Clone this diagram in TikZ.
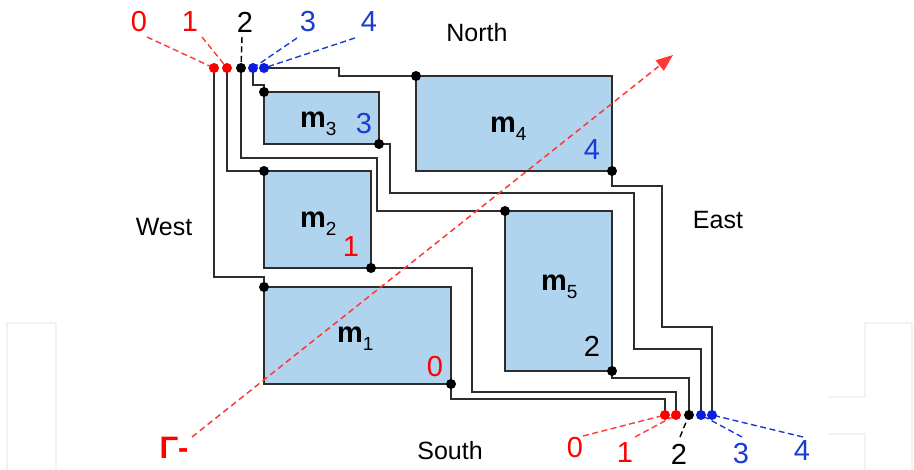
\documentclass[tikz,border=0pt]{standalone}
\usepackage{fontspec}
\setmainfont{Liberation Sans}
\usetikzlibrary{arrows.meta}
\definecolor{boxfill}{RGB}{176,212,238}
\definecolor{boxline}{RGB}{45,45,45}
\definecolor{myred}{RGB}{255,0,0}
\definecolor{dashred}{RGB}{255,55,55}
\definecolor{myblue}{RGB}{25,60,210}
\definecolor{dotblue}{RGB}{10,30,220}
\definecolor{faint}{RGB}{242,242,242}
\tikzset{
  modbox/.style={draw=boxline,fill=boxfill,line width=1.4pt,anchor=north west,inner sep=0pt,outer sep=0pt},
  wire/.style={draw=boxline,line width=1.4pt},
  dot/.style={circle,fill=black,inner sep=0pt,minimum size=10pt},
  rdot/.style={dot,fill=myred},
  bdot/.style={dot,fill=dotblue},
  lbl/.style={inner sep=0pt,font=\fontsize{29}{30}\selectfont},
  dirlbl/.style={inner sep=0pt,font=\fontsize{25}{28}\selectfont},
  mlbl/.style={inner sep=0pt,anchor=base west,font=\fontsize{29}{30}\selectfont\bfseries},
  ldash/.style={line width=1.4pt,dash pattern=on 6pt off 3.5pt},
  faintline/.style={draw=faint,line width=2.5pt}
}
\newcommand{\mlab}[1]{m\raisebox{-0.27em}{\fontsize{19}{19}\mdseries\selectfont #1}}
\begin{document}
\begin{tikzpicture}[x=1pt,y=-1pt]
\useasboundingbox (0,0) rectangle (914,470);
% faint background shapes
\draw[faintline] (7,470) -- (7,323) -- (56,323) -- (56,470);
\draw[faintline] (828,397) -- (865,397) -- (865,323) -- (912,323) -- (912,470);
\draw[faintline] (828,434) -- (865,434) -- (865,470);

% boxes
\node[modbox,minimum width=115pt,minimum height=52pt] (m3) at (264,92) {};
\node[modbox,minimum width=196pt,minimum height=95pt] (m4) at (416,76) {};
\node[modbox,minimum width=107pt,minimum height=97pt] (m2) at (264,171) {};
\node[modbox,minimum width=187pt,minimum height=97pt] (m1) at (264,287) {};
\node[modbox,minimum width=107pt,minimum height=160pt] (m5) at (505,211) {};

% module labels
\node[mlbl] (l3) at (300,128) {\mlab{3}};
\node[mlbl] (l4) at (490,133) {\mlab{4}};
\node[mlbl] (l2) at (300,228) {\mlab{2}};
\node[mlbl] (l1) at (337,343) {\mlab{1}};
\node[mlbl] (l5) at (541,291) {\mlab{5}};

% numbers inside boxes
\node[lbl,text=myblue] (n3) at (364,124) {3};
\node[lbl,text=myblue] (n4) at (592,150) {4};
\node[lbl,text=myred] (n1) at (351,247) {1};
\node[lbl,text=myred] (n0) at (435,367) {0};
\node[lbl] (n2) at (592,346) {2};

% direction labels
\node[dirlbl] (north) at (477,33) {North};
\node[dirlbl] (west) at (164,227) {West};
\node[dirlbl] (east) at (718,220) {East};
\node[dirlbl] (south) at (450,451) {South};

% terminal coordinates
\coordinate (t0) at (214,68);
\coordinate (t1) at (227,68);
\coordinate (t2) at (241,68);
\coordinate (t3) at (253,68);
\coordinate (t4) at (264,68);
\coordinate (b0) at (665,415);
\coordinate (b1) at (676,415);
\coordinate (b2) at (689,415);
\coordinate (b3) at (701,415);
\coordinate (b4) at (712,415);

% input wires
\draw[wire] (t0) -- (214,277) -- (264,277) -- (m1.north west);
\draw[wire] (t1) |- (m2.north west);
\draw[wire] (t2) -- (241,158) -- (377,158) -- (377,211) -- (m5.north west);
\draw[wire] (t3) -- (253,85) -- (264,85) -- (m3.north west);
\draw[wire] (t4) -- (339,68) -- (339,76) -- (m4.north west);

% output wires
\draw[wire] (m1.south east) -- (451,399) -- (665,399) -- (b0);
\draw[wire] (m2.south east) -- (472,268) -- (472,392) -- (676,392) -- (b1);
\draw[wire] (m5.south east) -- (612,378) -- (689,378) -- (b2);
\draw[wire] (m3.south east) -- (390,144) -- (390,193) -- (634,193) -- (634,349) -- (701,349) -- (b3);
\draw[wire] (m4.south east) -- (612,186) -- (662,186) -- (662,327) -- (712,327) -- (b4);

% gamma arrow
\coordinate (gs) at (192,437);
\coordinate (ge) at (673,55);
\draw[dashred,line width=1.5pt,dash pattern=on 6pt off 4pt,-{Triangle[length=17pt,width=13pt]}] (gs) -- (ge);
\node[inner sep=0pt,text=myred,font=\fontsize{31}{32}\selectfont\bfseries] (gam) at (174,448) {Γ-};

% top labels
\node[lbl,text=myred] (tl0) at (139,22) {0};
\node[lbl,text=myred] (tl1) at (190,22) {1};
\node[lbl] (tl2) at (245,22) {2};
\node[lbl,text=myblue] (tl3) at (308,22) {3};
\node[lbl,text=myblue] (tl4) at (369,22) {4};
\draw[ldash,dashred] (147,37) -- (t0);
\draw[ldash,dashred] (202,37) -- (t1);
\draw[ldash,black] (242,37) -- (t2);
\draw[ldash,myblue] (297,38) -- (t3);
\draw[ldash,myblue] (355,38) -- (t4);

% bottom labels
\node[lbl,text=myred] (bl0) at (575,448) {0};
\node[lbl,text=myred] (bl1) at (625,453) {1};
\node[lbl] (bl2) at (679,454) {2};
\node[lbl,text=myblue] (bl3) at (741,454) {3};
\node[lbl,text=myblue] (bl4) at (802,451) {4};
\draw[ldash,dashred] (583,436) -- (b0);
\draw[ldash,dashred] (635,437) -- (b1);
\draw[ldash,black] (680,437) -- (b2);
\draw[ldash,myblue] (742,437) -- (b3);
\draw[ldash,myblue] (803,437) -- (b4);

% dots
\node[rdot] at (t0) {};
\node[rdot] at (t1) {};
\node[dot] at (t2) {};
\node[bdot] at (t3) {};
\node[bdot] at (t4) {};
\node[rdot] at (b0) {};
\node[rdot] at (b1) {};
\node[dot] at (b2) {};
\node[bdot] at (b3) {};
\node[bdot] at (b4) {};
\foreach \m in {m1,m2,m3,m4,m5}{
  \node[dot] at (\m.north west) {};
  \node[dot] at (\m.south east) {};
}
\end{tikzpicture}
\end{document}
